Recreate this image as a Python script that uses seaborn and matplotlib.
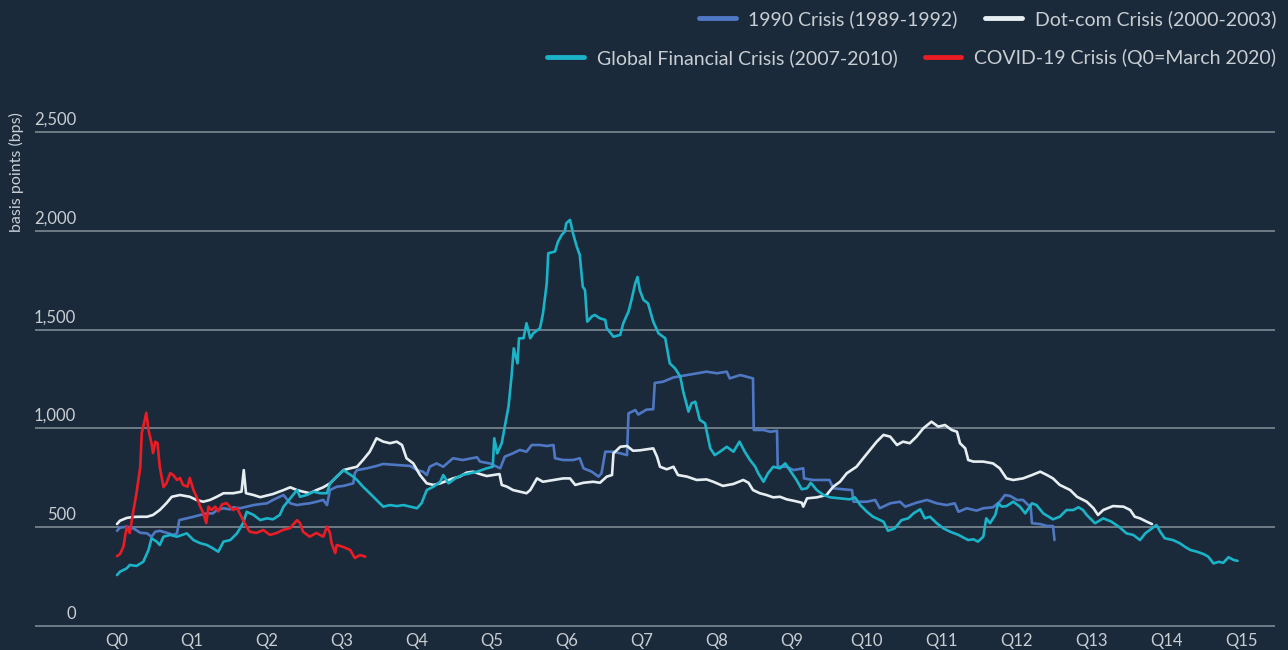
import pandas as pd
import matplotlib
matplotlib.use("Agg")
import matplotlib.pyplot as plt
import seaborn as sns
from matplotlib import font_manager
from matplotlib.lines import Line2D

# Colours
BG = "#1a2a3a"
GRID = "#6f7b87"
TEXT = "#c9ced3"

# Series: x in quarters after Q0, y in basis points
crisis_1990_q = [0, 0.04, 0.13, 0.22, 0.31, 0.40, 0.46, 0.51, 0.57, 0.66, 0.75, 0.80, 0.83, 0.93,
                 1.02, 1.11, 1.20, 1.28, 1.33, 1.42, 1.51, 1.55, 1.64, 1.73, 1.82, 1.91, 2.00, 2.08,
                 2.17, 2.22, 2.31, 2.40, 2.48, 2.57, 2.66, 2.75, 2.80, 2.84, 2.93, 3.02, 3.15, 3.17,
                 3.20, 3.33, 3.46, 3.55, 3.73, 3.91, 4.00, 4.08, 4.13, 4.17, 4.26, 4.35, 4.48, 4.61,
                 4.80, 4.84, 4.97, 5.11, 5.17, 5.28, 5.37, 5.46, 5.53, 5.64, 5.73, 5.82, 5.84, 5.95,
                 6.08, 6.17, 6.22, 6.33, 6.42, 6.46, 6.51, 6.62, 6.71, 6.80, 6.82, 6.91, 6.95, 7.06,
                 7.15, 7.17, 7.28, 7.42, 7.60, 7.73, 7.86, 8.00, 8.13, 8.17, 8.31, 8.48, 8.49, 8.62,
                 8.71, 8.80, 8.81, 8.93, 9.02, 9.15, 9.16, 9.28, 9.50, 9.55, 9.68, 9.80, 9.82, 10.00,
                 10.11, 10.17, 10.31, 10.44, 10.51, 10.66, 10.80, 10.93, 11.06, 11.17, 11.22, 11.33,
                 11.46, 11.55, 11.68, 11.77, 11.84, 11.91, 12.00, 12.08, 12.15, 12.18, 12.20, 12.31,
                 12.40, 12.48, 12.50]
crisis_1990_bps = [482, 498, 503, 494, 472, 469, 452, 477, 482, 472, 461, 469, 536, 545,
                   553, 562, 570, 570, 587, 596, 590, 601, 596, 604, 612, 617, 621, 638,
                   654, 663, 621, 612, 617, 621, 629, 638, 612, 688, 705, 709, 722, 773,
                   789, 798, 810, 820, 815, 810, 789, 781, 764, 806, 823, 806, 849, 840,
                   854, 832, 823, 798, 857, 874, 891, 882, 916, 916, 911, 916, 849, 840,
                   840, 849, 798, 781, 756, 773, 882, 882, 874, 865, 1076, 1093, 1070, 1095,
                   1097, 1230, 1236, 1258, 1270, 1279, 1287, 1279, 1287, 1253, 1270, 1253, 992, 992,
                   983, 988, 806, 806, 789, 798, 747, 739, 739, 697, 692, 688, 629, 629,
                   638, 596, 621, 629, 604, 624, 638, 621, 612, 621, 578, 596,
                   584, 596, 601, 629, 663, 658, 638, 638, 612, 612, 520, 516,
                   506, 506, 435]

dotcom_q = [0, 0.04, 0.13, 0.22, 0.31, 0.40, 0.48, 0.57, 0.66, 0.73, 0.84, 0.97, 1.06, 1.15,
            1.24, 1.33, 1.42, 1.55, 1.66, 1.69, 1.72, 1.82, 1.91, 2.08, 2.22, 2.31, 2.40, 2.48,
            2.57, 2.66, 2.75, 2.84, 2.93, 3.02, 3.11, 3.20, 3.28, 3.37, 3.46, 3.55, 3.64, 3.73,
            3.80, 3.86, 3.95, 4.04, 4.13, 4.22, 4.31, 4.48, 4.57, 4.66, 4.75, 4.84, 4.93, 5.10,
            5.13, 5.20, 5.28, 5.37, 5.46, 5.51, 5.60, 5.68, 5.82, 5.95, 6.04, 6.11, 6.22, 6.35,
            6.44, 6.53, 6.60, 6.62, 6.71, 6.80, 6.88, 6.97, 7.15, 7.20, 7.24, 7.33, 7.42, 7.48,
            7.60, 7.73, 7.86, 7.95, 8.08, 8.22, 8.35, 8.42, 8.48, 8.57, 8.66, 8.75, 8.84, 8.93,
            9.02, 9.13, 9.15, 9.20, 9.33, 9.46, 9.55, 9.64, 9.73, 9.86, 9.95, 10.04, 10.13, 10.22,
            10.31, 10.40, 10.48, 10.57, 10.66, 10.75, 10.86, 10.95, 11.04, 11.13, 11.20, 11.24,
            11.31, 11.35, 11.42, 11.55, 11.68, 11.77, 11.86, 11.95, 12.08, 12.20, 12.31, 12.40,
            12.48, 12.57, 12.71, 12.80, 12.93, 13.02, 13.08, 13.15, 13.28, 13.42, 13.51, 13.57,
            13.64, 13.73, 13.80]
dotcom_bps = [516, 533, 547, 552, 553, 553, 562, 587, 622, 654, 663, 654, 638, 629,
              638, 654, 672, 672, 680, 789, 672, 663, 652, 668, 688, 702, 688, 680,
              672, 688, 702, 722, 756, 789, 798, 806, 840, 882, 950, 933, 925, 933,
              916, 849, 823, 764, 722, 714, 722, 747, 756, 776, 781, 769, 759, 769,
              714, 705, 688, 680, 672, 688, 747, 730, 739, 747, 747, 714, 725, 730,
              725, 756, 764, 874, 907, 911, 887, 889, 899, 857, 806, 793, 806, 764,
              756, 739, 742, 730, 709, 719, 739, 725, 688, 672, 663, 651, 654, 641,
              634, 624, 604, 646, 651, 663, 705, 730, 773, 806, 849, 891, 933, 967,
              958, 916, 933, 925, 958, 1000, 1034, 1009, 1017, 992, 983, 925,
              899, 840, 832, 832, 823, 798, 747, 739, 747, 764, 781, 764,
              747, 714, 688, 654, 629, 596, 562, 587, 607, 604, 587, 553,
              545, 528, 516]

gfc_q = [0, 0.04, 0.13, 0.17, 0.26, 0.35, 0.42, 0.46, 0.53, 0.57, 0.62, 0.71, 0.80, 0.93,
         1.02, 1.11, 1.20, 1.28, 1.35, 1.42, 1.51, 1.60, 1.68, 1.73, 1.82, 1.91, 2.00, 2.08,
         2.17, 2.22, 2.31, 2.40, 2.44, 2.53, 2.62, 2.71, 2.80, 2.84, 2.93, 3.02, 3.08, 3.15,
         3.20, 3.28, 3.37, 3.46, 3.55, 3.64, 3.73, 3.82, 3.91, 4.00, 4.06, 4.13, 4.22, 4.31,
         4.35, 4.42, 4.51, 4.60, 4.71, 4.80, 4.93, 5.01, 5.03, 5.07, 5.13, 5.17, 5.22, 5.26,
         5.29, 5.34, 5.36, 5.42, 5.46, 5.51, 5.55, 5.64, 5.68, 5.73, 5.75, 5.84, 5.88, 5.93,
         5.97, 5.99, 6.04, 6.08, 6.13, 6.17, 6.21, 6.24, 6.27, 6.33, 6.37, 6.44, 6.51, 6.53,
         6.62, 6.71, 6.75, 6.82, 6.86, 6.91, 6.94, 6.97, 7.02, 7.08, 7.15, 7.22, 7.31, 7.37,
         7.44, 7.51, 7.55, 7.62, 7.66, 7.71, 7.77, 7.84, 7.91, 7.97, 8.04, 8.13, 8.22, 8.30,
         8.37, 8.44, 8.51, 8.55, 8.62, 8.68, 8.75, 8.84, 8.91, 8.97, 9.06, 9.13, 9.20, 9.25,
         9.33, 9.42, 9.51, 9.64, 9.77, 9.84, 9.91, 10.00, 10.08, 10.22, 10.28, 10.37, 10.46,
         10.55, 10.62, 10.71, 10.77, 10.84, 10.93, 11.02, 11.11, 11.22, 11.35, 11.42, 11.48,
         11.55, 11.59, 11.64, 11.71, 11.75, 11.80, 11.86, 11.95, 12.04, 12.11, 12.20, 12.26,
         12.35, 12.48, 12.57, 12.66, 12.75, 12.82, 12.88, 12.93, 13.04, 13.15, 13.26, 13.37,
         13.46, 13.55, 13.64, 13.71, 13.80, 13.86, 13.91, 13.97, 14.08, 14.17, 14.24, 14.31,
         14.40, 14.49, 14.55, 14.62, 14.69, 14.75, 14.82, 14.89, 14.94]
gfc_bps = [258, 275, 292, 309, 304, 325, 385, 444, 427, 410, 452, 461, 452, 469,
           435, 419, 410, 393, 376, 427, 435, 469, 520, 578, 562, 536, 545, 540,
           562, 604, 646, 688, 654, 663, 680, 672, 672, 722, 756, 789, 773, 756,
           739, 705, 672, 638, 604, 612, 607, 612, 604, 596, 621, 688, 705, 730,
           764, 722, 747, 764, 773, 781, 798, 806, 950, 874, 925, 1009, 1110, 1262,
           1405, 1329, 1456, 1456, 1532, 1456, 1481, 1507, 1582, 1734, 1886, 1895, 1945, 1979,
           1996, 2038, 2055, 1987, 1920, 1878, 1717, 1700, 1540, 1566, 1574, 1557, 1549, 1507,
           1464, 1473, 1532, 1591, 1650, 1734, 1766, 1700, 1650, 1633, 1540, 1481, 1456, 1329,
           1304, 1262, 1186, 1085, 1127, 1135, 1043, 1026, 899, 865, 882, 907, 882, 933,
           882, 840, 806, 773, 730, 773, 806, 798, 823, 789, 739, 692, 697, 725,
           688, 663, 651, 646, 641, 651, 612, 578, 553, 528, 482, 494, 536,
           545, 570, 591, 545, 553, 520, 494, 477, 461, 435, 439, 427,
           452, 545, 520, 562, 621, 604, 607, 629, 604, 570, 621, 612,
           570, 540, 553, 587, 587, 601, 587, 562, 520, 545, 528, 499,
           469, 461, 435, 469, 494, 511, 477, 444, 435, 419, 401, 385,
           376, 364, 351, 317, 325, 320, 348, 334, 330]

covid_q = [0, 0.04, 0.085, 0.13, 0.17, 0.22, 0.26, 0.31, 0.33, 0.35, 0.39, 0.42, 0.46, 0.48,
           0.51, 0.54, 0.57, 0.62, 0.66, 0.71, 0.75, 0.80, 0.84, 0.88, 0.94, 0.97, 1.02, 1.06,
           1.11, 1.15, 1.19, 1.22, 1.26, 1.31, 1.35, 1.40, 1.46, 1.55, 1.60, 1.66, 1.73, 1.77,
           1.86, 1.95, 2.04, 2.13, 2.21, 2.31, 2.40, 2.44, 2.48, 2.57, 2.66, 2.75, 2.80, 2.84,
           2.86, 2.91, 2.93, 3.01, 3.11, 3.17, 3.24, 3.31]
covid_bps = [354, 364, 401, 503, 471, 587, 673, 805, 977, 1009, 1079, 992, 925, 875,
             933, 925, 805, 703, 723, 774, 764, 739, 749, 714, 705, 749, 688, 654,
             604, 572, 521, 604, 587, 604, 580, 615, 622, 587, 597, 552, 501, 477,
             471, 486, 461, 471, 486, 496, 536, 521, 477, 452, 471, 452, 503, 471,
             420, 369, 410, 401, 385, 344, 359, 351]

series_names = ["1990 Crisis (1989-1992)", "Dot-com Crisis (2000-2003)",
                "Global Financial Crisis (2007-2010)", "COVID-19 Crisis (Q0=March 2020)"]
series_colors = ["#4f78c4", "#e6eef2", "#1bb3c8", "#ec1c24"]

quarter_labels = [f"Q{i}" for i in range(16)]
y_ticks = [0, 500, 1000, 1500, 2000, 2500]


def build_frame():
    """Stack the four crisis series into one long table."""
    parts = []
    for name, q, bps in zip(series_names,
                            [crisis_1990_q, dotcom_q, gfc_q, covid_q],
                            [crisis_1990_bps, dotcom_bps, gfc_bps, covid_bps]):
        parts.append(pd.DataFrame({"quarter": q, "bps": bps, "crisis": name}))
    return pd.concat(parts, ignore_index=True)


def pick_font():
    installed = {f.name for f in font_manager.fontManager.ttflist}
    for fam in ["Liberation Sans Narrow", "Lato", "DejaVu Sans"]:
        if fam in installed:
            return fam
    return "DejaVu Sans"


def main():
    df = build_frame()

    sns.set_theme(style="dark")
    plt.rcParams["font.family"] = [pick_font(), "DejaVu Sans"]

    fig = plt.figure(figsize=(12.88, 6.5), dpi=100, facecolor=BG)
    ax = fig.add_axes([0.0272, 0.0323, 0.9627, 0.7708])
    ax.set_facecolor(BG)

    sns.lineplot(data=df, x="quarter", y="bps", hue="crisis", hue_order=series_names,
                 palette=series_colors, estimator=None, sort=False, linewidth=1.9,
                 legend=False, ax=ax)

    ax.set_xlim(-1.093, 15.44)
    ax.set_ylim(-15, 2520)

    # gridlines with labels sitting on top of them
    ax.set_yticks(y_ticks)
    ax.set_yticklabels([])
    ax.tick_params(axis="y", length=0)
    ax.grid(axis="y", color=GRID, linewidth=1.4)
    ax.grid(axis="x", visible=False)
    ytrans = ax.get_yaxis_transform()
    for v in y_ticks:
        ax.text(0.033, v + 22, f"{v:,}", transform=ytrans, ha="right", va="bottom",
                color=TEXT, fontsize=12)

    ax.set_xticks(range(16))
    ax.set_xticklabels(quarter_labels, color=TEXT, fontsize=12)
    ax.tick_params(axis="x", length=0, pad=3)
    ax.set_xlabel("")
    ax.set_ylabel("")
    for side in ax.spines:
        ax.spines[side].set_visible(False)

    fig.text(0.013, 1 - 112 / 650, "basis points (bps)", rotation=90, ha="center", va="top",
             color=TEXT, fontsize=11.5)

    # two right-aligned legend rows
    handles = [Line2D([], [], color=c, linewidth=3.5) for c in series_colors]
    for row, y in enumerate([1 - 6 / 650, 1 - 45 / 650]):
        leg = fig.legend(handles[2 * row:2 * row + 2], series_names[2 * row:2 * row + 2],
                         loc="upper right", bbox_to_anchor=(1 - 8 / 1288, y), ncol=2,
                         frameon=False, fontsize=14, handlelength=1.9, handletextpad=0.65,
                         columnspacing=1.4, borderaxespad=0, borderpad=0.2)
        for t in leg.get_texts():
            t.set_color(TEXT)

    fig.savefig("out.png", dpi=100, facecolor=BG)
    plt.close(fig)


if __name__ == "__main__":
    main()
